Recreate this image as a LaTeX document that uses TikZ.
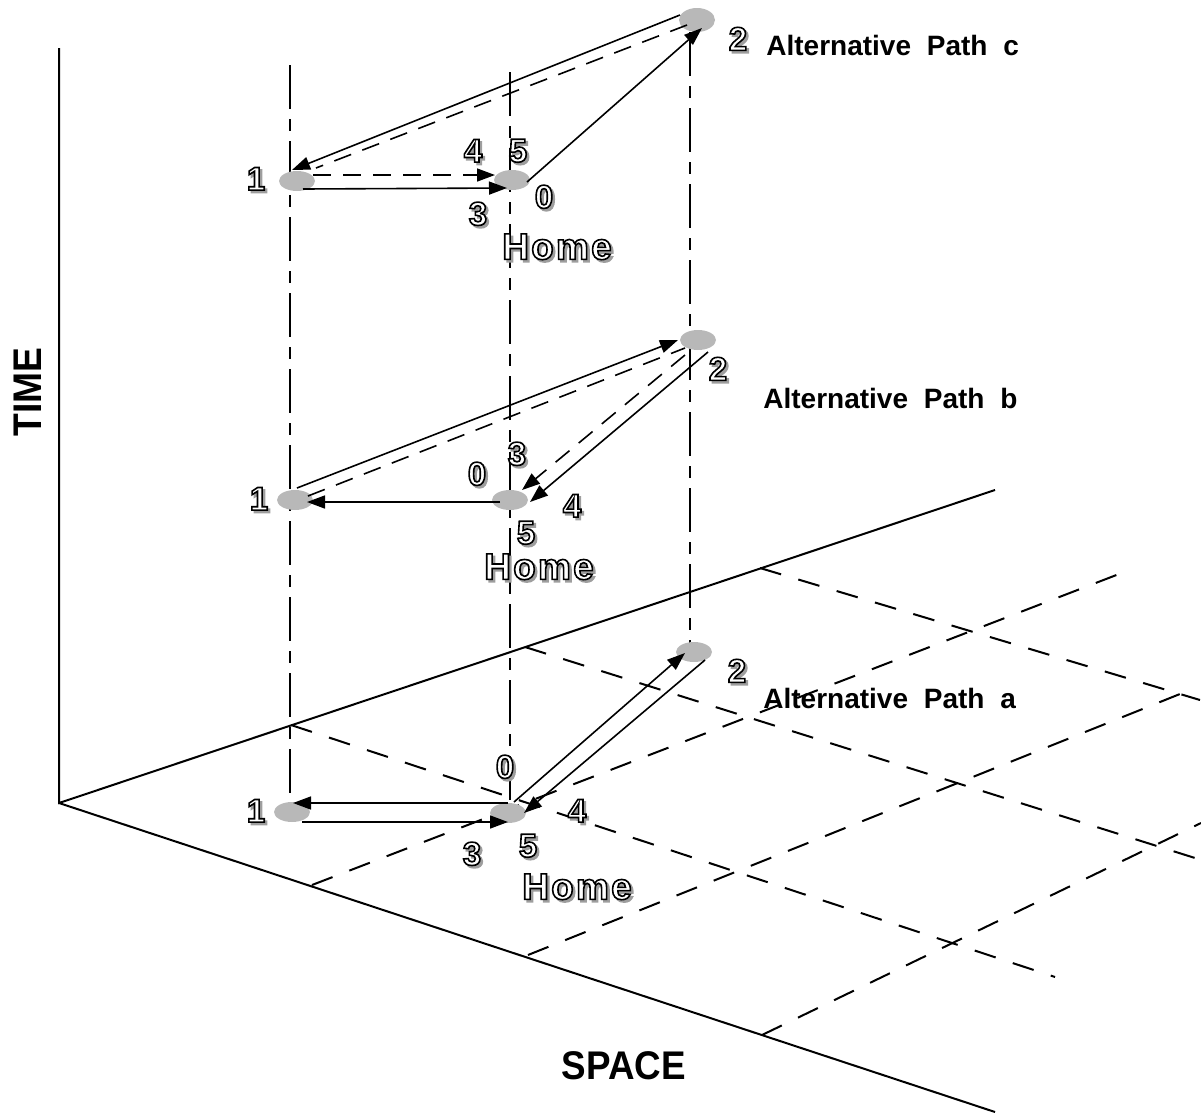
\documentclass[tikz,border=0pt]{standalone}
\usepackage{fontspec}
\setmainfont{Liberation Sans}
\newfontfamily\homefont[LetterSpace=6]{Liberation Sans}
\usetikzlibrary{arrows.meta,shapes.geometric,calc,backgrounds}

% hollow (outlined) text with a grey drop shadow
\newcommand{\HLraw}[2]{\special{pdf:literal direct 2 Tr 0.8 w #2}#1\special{pdf:literal direct 0 Tr 0 g 0 G}}
\newcommand{\HL}[1]{\makebox[0pt][l]{\hspace{1.2pt}\raisebox{-1.2pt}{\HLraw{#1}{0.62 g 0.62 G}}}\HLraw{#1}{1 g 0 G}}

\tikzset{
 axisline/.style={line width=1pt},
 floorgrid/.style={line width=1pt, dash pattern=on 11pt off 9pt},
 vdash/.style={line width=1pt, dash pattern=on 22pt off 5pt on 6pt off 5pt},
 spot/.style={ellipse, fill=black!28, inner sep=0pt, minimum width=18pt, minimum height=10pt},
 arr/.style={line width=0.8pt, -{Triangle[length=9pt,width=6.5pt]}},
 dsh/.style={line width=0.8pt, dash pattern=on 9pt off 6pt},
 dsharr/.style={dsh, -{Triangle[length=9pt,width=6.5pt]}},
 num/.style={font=\bfseries\fontsize{16.5}{16.5}\selectfont, inner sep=0pt},
 homelab/.style={font=\homefont\bfseries\fontsize{18.5}{18.5}\selectfont, inner sep=0pt},
 alt/.style={font=\bfseries\fontsize{14}{14}\selectfont, inner sep=0pt, anchor=west},
 big/.style={font=\bfseries\fontsize{20}{20}\selectfont, inner sep=0pt},
}

\begin{document}
\begin{tikzpicture}[x=0.5pt,y=-0.5pt]
\useasboundingbox (0,0) rectangle (1201,1115);

% places
\node[spot] (c1) at (297,181) {};
\node[spot] (ch) at (512,180) {};
\node[spot, minimum height=12pt] (c2) at (697,20) {};
\node[spot] (b1) at (295,500) {};
\node[spot] (bh) at (510,500) {};
\node[spot] (b2) at (698,340) {};
\node[spot] (a1) at (292,812) {};
\node[spot] (ah) at (508,813) {};
\node[spot] (a2) at (694,652) {};

% axes
\coordinate (O) at (59,803);
\coordinate (Ttop) at (59,48);
\coordinate (Uend) at (995,490);
\coordinate (Dend) at (995,1112);
\coordinate (U1) at (291,725);
\coordinate (U2) at (525,647);
\coordinate (U3) at (760,568);
\coordinate (D1) at (312,885);
\coordinate (D2) at (528,955);
\coordinate (D3) at (762,1035);
\coordinate (A1e) at (1132,569);
\coordinate (A2e) at (1195,688);
\coordinate (A3e) at (1201,823);
\coordinate (B1e) at (1055,977);
\coordinate (B2e) at (1195,858);
\coordinate (B3e) at (1200,700);
\coordinate (vl) at (290,65);
\coordinate (vm) at (510,72);
\coordinate (vr) at (690,32);

\begin{scope}[on background layer]
\draw[axisline] (Ttop) -- (O) -- (Uend);
\draw[axisline] (O) -- (Dend);
\draw[floorgrid] (D1) -- (A1e);
\draw[floorgrid] (D2) -- (A2e);
\draw[floorgrid] (D3) -- (A3e);
\draw[floorgrid] (U1) -- (B1e);
\draw[floorgrid] (U2) -- (B2e);
\draw[floorgrid] (U3) -- (B3e);
\draw[vdash] (vl) -- (vl |- a1);
\draw[vdash] (vm) -- (vm |- ah);
\draw[vdash] (vr) -- (vr |- a2);
\end{scope}

% path c
\draw[arr] ($(c1)+(6,8)$) -- ($(ch)+(-5,8)$);
\draw[dsharr] ($(c1)+(16,-6)$) -- ($(ch)+(-17,-5)$);
\draw[arr] ($(ch)+(15,2)$) -- ($(c2)+(5,8)$);
\draw[arr] ($(c2)+(-17,-5)$) -- ($(c1)+(-5,-11)$);
\draw[dsh] ($(c2)+(-10,5)$) -- ($(c1)+(19,-13)$);

% path b
\draw[arr] ($(b1)+(2,-12)$) -- ($(b2)+(-20,0)$);
\draw[dsh] ($(b1)+(13,-4)$) -- ($(b2)+(-13,8)$);
\draw[arr] ($(b2)+(10,12)$) -- ($(bh)+(20,2)$);
\draw[dsharr] ($(b2)+(-13,15)$) -- ($(bh)+(12,-10)$);
\draw[arr] ($(bh)+(-10,2)$) -- ($(b1)+(12,2)$);

% path a
\draw[arr] ($(ah)+(0,-10)$) -- ($(a1)+(1,-9)$);
\draw[arr] ($(a1)+(10,10)$) -- ($(ah)+(0,9)$);
\draw[arr] ($(ah)+(6,-11)$) -- ($(a2)+(-9,1)$);
\draw[arr] ($(a2)+(11,8)$) -- ($(ah)+(16,0)$);

% labels path c
\node[num] (lc1) at (256,180) {\HL{1}};
\node[num] (lc4) at (473,152) {\HL{4}};
\node[num] (lc5) at (518,152) {\HL{5}};
\node[num] (lc0) at (544,198) {\HL{0}};
\node[num] (lc3) at (478,215) {\HL{3}};
\node[homelab] (lch) at (557,248) {\HL{Home}};
\node[num] (lc2) at (738,40) {\HL{2}};
% labels path b
\node[num] (lb1) at (259,500) {\HL{1}};
\node[num] (lb0) at (477,475) {\HL{0}};
\node[num] (lb3) at (517,455) {\HL{3}};
\node[num] (lb4) at (572,507) {\HL{4}};
\node[num] (lb5) at (526,534) {\HL{5}};
\node[homelab] (lbh) at (539,568) {\HL{Home}};
\node[num] (lb2) at (718,370) {\HL{2}};
% labels path a
\node[num] (la1) at (256,812) {\HL{1}};
\node[num] (la0) at (505,768) {\HL{0}};
\node[num] (la4) at (577,812) {\HL{4}};
\node[num] (la3) at (472,855) {\HL{3}};
\node[num] (la5) at (528,847) {\HL{5}};
\node[homelab] (lah) at (577,888) {\HL{Home}};
\node[num] (la2) at (737,672) {\HL{2}};

% titles
\node[alt] (altc) at (766,45) {Alternative\hspace{4pt} Path\hspace{4pt} c};
\node[alt] (altb) at (763,398) {Alternative\hspace{4pt} Path\hspace{4pt} b};
\node[alt] (alta) at (763,698) {Alternative\hspace{4pt} Path\hspace{4pt} a};
\node[big, rotate=90] (time) at (28,392) {\scalebox{0.93}[1]{TIME}};
\node[big] (space) at (624,1066) {\scalebox{0.92}[1]{SPACE}};
\end{tikzpicture}
\end{document}
